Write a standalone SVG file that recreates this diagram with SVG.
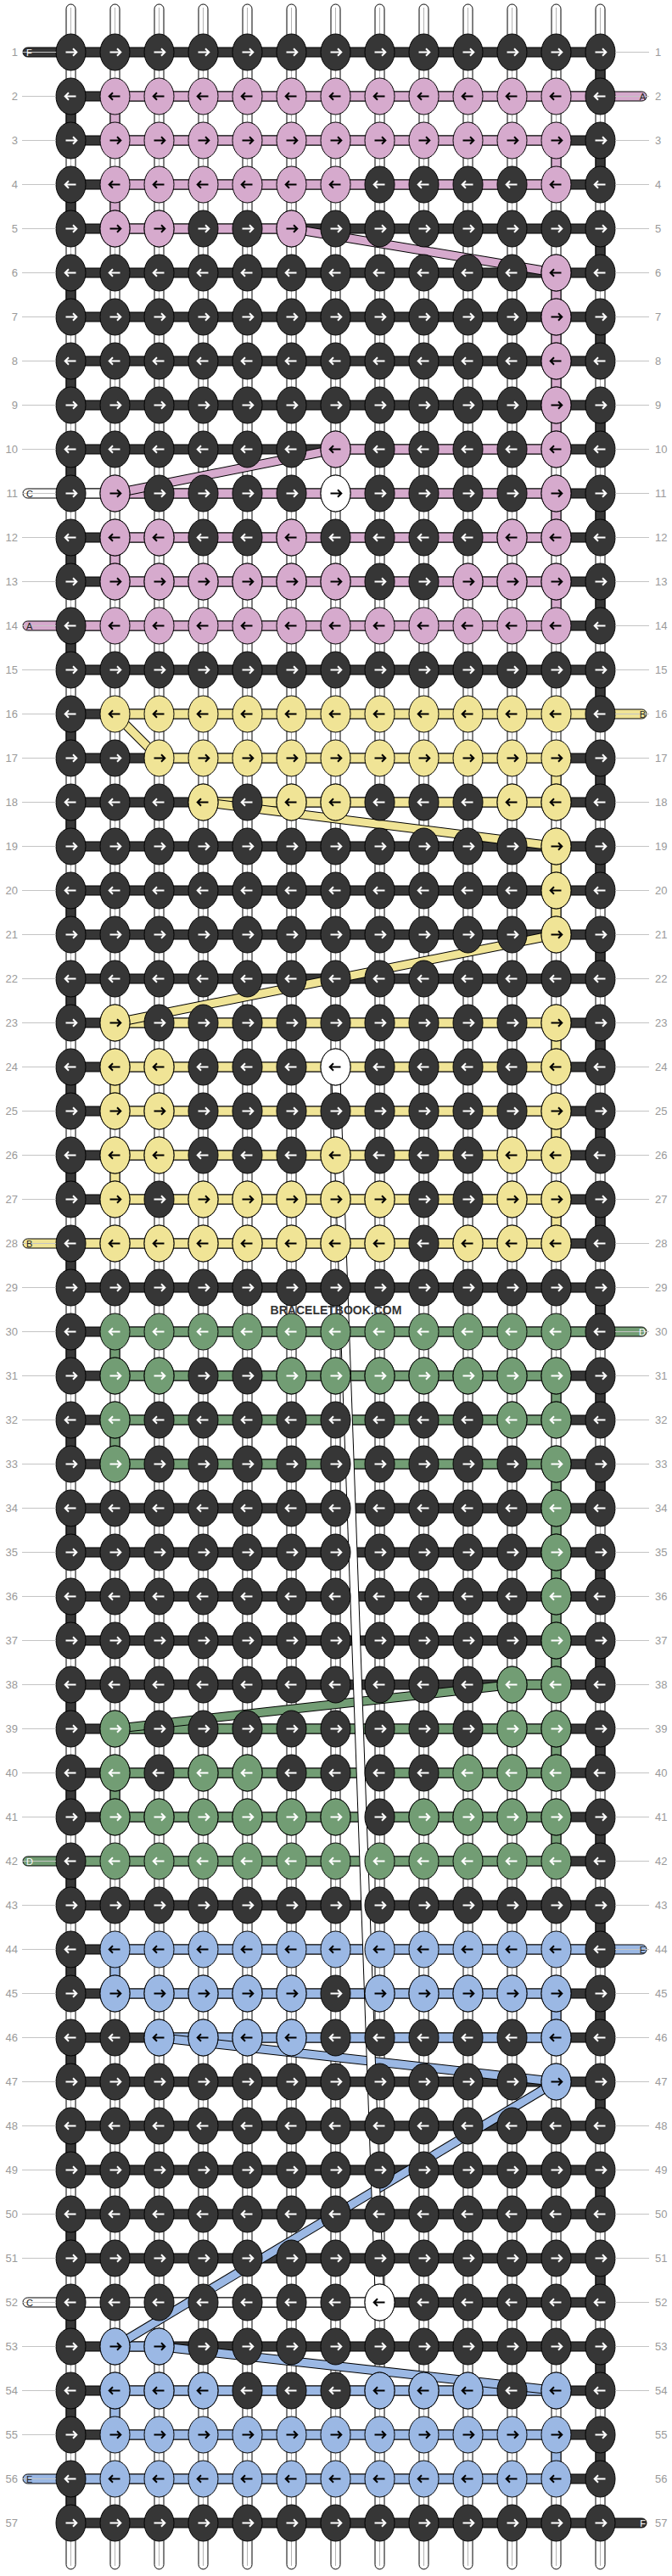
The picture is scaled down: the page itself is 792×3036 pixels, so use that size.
<svg xmlns="http://www.w3.org/2000/svg" width="792" height="3036" viewBox="0 0 792 3036">
<style>
.n{font-family:"Liberation Sans",Arial,sans-serif;font-size:13px;fill:#9a9a9a}
.nl{text-anchor:end}
.ln{stroke:#c4c4c4;stroke-width:1;fill:none}
.o{stroke:#000;stroke-width:11}
.pt{font-family:"Liberation Sans",Arial,sans-serif;font-size:11px}
.ed{stroke:#000;stroke-width:1}
</style>
<defs>
<path id="ar" d="M-6,0H6.5M2.5,-4.3L6.8,0L2.5,4.3" fill="none" stroke-width="2"/>
<path id="al" d="M6,0H-6.5M-2.5,-4.3L-6.8,0L-2.5,4.3" fill="none" stroke-width="2"/>
<ellipse id="e" rx="17.5" ry="21.5" stroke="#000" stroke-width="1"/>
<g id="dr"><use href="#e" fill="#363636"/><use href="#ar" stroke="#fff"/></g>
<g id="dl"><use href="#e" fill="#363636"/><use href="#al" stroke="#fff"/></g>
<g id="pr"><use href="#e" fill="#d6aacd"/><use href="#ar" stroke="#000"/></g>
<g id="pl"><use href="#e" fill="#d6aacd"/><use href="#al" stroke="#000"/></g>
<g id="yr"><use href="#e" fill="#f0e496"/><use href="#ar" stroke="#000"/></g>
<g id="yl"><use href="#e" fill="#f0e496"/><use href="#al" stroke="#000"/></g>
<g id="gr"><use href="#e" fill="#729d74"/><use href="#ar" stroke="#fff"/></g>
<g id="gl"><use href="#e" fill="#729d74"/><use href="#al" stroke="#fff"/></g>
<g id="br"><use href="#e" fill="#9bb8e4"/><use href="#ar" stroke="#000"/></g>
<g id="bl"><use href="#e" fill="#9bb8e4"/><use href="#al" stroke="#000"/></g>
<g id="wr"><use href="#e" fill="#fff"/><use href="#ar" stroke="#000"/></g>
<g id="wl"><use href="#e" fill="#fff"/><use href="#al" stroke="#000"/></g>
<g id="DR"><use href="#dr" x="83.5"/><use href="#dr" x="135.5"/><use href="#dr" x="187.5"/><use href="#dr" x="239.5"/><use href="#dr" x="291.5"/><use href="#dr" x="343.5"/><use href="#dr" x="395.5"/><use href="#dr" x="447.5"/><use href="#dr" x="499.5"/><use href="#dr" x="551.5"/><use href="#dr" x="603.5"/><use href="#dr" x="655.5"/><use href="#dr" x="707.5"/></g>
<g id="DL"><use href="#dl" x="83.5"/><use href="#dl" x="135.5"/><use href="#dl" x="187.5"/><use href="#dl" x="239.5"/><use href="#dl" x="291.5"/><use href="#dl" x="343.5"/><use href="#dl" x="395.5"/><use href="#dl" x="447.5"/><use href="#dl" x="499.5"/><use href="#dl" x="551.5"/><use href="#dl" x="603.5"/><use href="#dl" x="655.5"/><use href="#dl" x="707.5"/></g>
<g id="st"><rect x="-5.5" y="5" width="11" height="3023" rx="5.5" fill="#fff" stroke="#000"/><path d="M0,9V3024" stroke="#b4b4b4"/></g>
<path id="pL" d="M84,-5.5H32.5A5.5,5.5 0 0 0 32.5,5.5H84Z" stroke="#000"/>
<path id="pR" d="M707,-5.5H756.5A5.5,5.5 0 0 1 756.5,5.5H707Z" stroke="#000"/>
</defs>
<rect width="792" height="3036" fill="#fff"/>
<g id="connectors">
<g id="strands"><use href="#st" x="83.5"/><use href="#st" x="135.5"/><use href="#st" x="187.5"/><use href="#st" x="239.5"/><use href="#st" x="291.5"/><use href="#st" x="343.5"/><use href="#st" x="395.5"/><use href="#st" x="447.5"/><use href="#st" x="499.5"/><use href="#st" x="551.5"/><use href="#st" x="603.5"/><use href="#st" x="655.5"/><use href="#st" x="707.5"/></g>
<path class="ed" fill="#363636" d="M702,61.5h11v52h-11zm0,104h11v52h-11zm0,104h11v52h-11zm0,104h11v52h-11zm0,104h11v52h-11zm0,104h11v52h-11zm0,104h11v52h-11zm0,104h11v52h-11zm0,104h11v52h-11zm0,104h11v52h-11zm0,104h11v52h-11zm0,104h11v52h-11zm0,104h11v52h-11zm0,104h11v52h-11zm0,104h11v52h-11zm0,104h11v52h-11zm0,104h11v52h-11zm0,104h11v52h-11zm0,104h11v52h-11zm0,104h11v52h-11zm0,104h11v52h-11zm0,104h11v52h-11zm0,104h11v52h-11zm0,104h11v52h-11zm0,104h11v52h-11zm0,104h11v52h-11zm0,104h11v52h-11zm0,104h11v52h-11zM78,113.5h11v52h-11zm0,104h11v52h-11zm0,104h11v52h-11zm0,104h11v52h-11zm0,104h11v52h-11zm0,104h11v52h-11zm0,104h11v52h-11zm0,104h11v52h-11zm0,104h11v52h-11zm0,104h11v52h-11zm0,104h11v52h-11zm0,104h11v52h-11zm0,104h11v52h-11zm0,104h11v52h-11zm0,104h11v52h-11zm0,104h11v52h-11zm0,104h11v52h-11zm0,104h11v52h-11zm0,104h11v52h-11zm0,104h11v52h-11zm0,104h11v52h-11zm0,104h11v52h-11zm0,104h11v52h-11zm0,104h11v52h-11zm0,104h11v52h-11zm0,104h11v52h-11zm0,104h11v52h-11zm0,104h11v52h-11z"/>
<path class="ed" fill="#d6aacd" d="M130,113.5h11v52h-11zM650,165.5h11v52h-11zM130,217.5h11v52h-11zM650,321.5h11v208h-11zM650,581.5h11v52h-11zM130,633.5h11v52h-11zM650,685.5h11v52h-11z"/>
<path class="ed" fill="#f0e496" d="M650,893.5h11v52h-11zM650,997.5h11v104h-11zM650,1205.5h11v52h-11zM130,1257.5h11v52h-11zM650,1309.5h11v52h-11zM130,1361.5h11v52h-11zM650,1413.5h11v52h-11z"/>
<path class="ed" fill="#729d74" d="M130,1569.5h11v52h-11zM650,1621.5h11v52h-11zM130,1673.5h11v52h-11zM650,1725.5h11v260h-11zM650,2037.5h11v52h-11zM130,2089.5h11v52h-11zM650,2141.5h11v52h-11z"/>
<path class="ed" fill="#9bb8e4" d="M130,2297.5h11v52h-11zM650,2349.5h11v52h-11zM130,2817.5h11v52h-11zM650,2869.5h11v52h-11z"/>
<path class="ed" fill="#363636" d="M83.5,56h624v11h-624zm0,52h624v11h-624zm0,52h624v11h-624zm0,52h624v11h-624zm0,52h624v11h-624zm0,52h624v11h-624zm0,52h624v11h-624zm0,52h624v11h-624zm0,52h624v11h-624zm0,52h624v11h-624zm0,52h624v11h-624zm0,52h624v11h-624zm0,52h624v11h-624zm0,52h624v11h-624zm0,52h624v11h-624zm0,52h624v11h-624zm0,52h624v11h-624zm0,52h624v11h-624zm0,52h624v11h-624zm0,52h624v11h-624zm0,52h624v11h-624zm0,52h624v11h-624zm0,52h624v11h-624zm0,52h624v11h-624zm0,52h624v11h-624zm0,52h624v11h-624zm0,52h624v11h-624zm0,52h624v11h-624zm0,52h624v11h-624zm0,52h624v11h-624zm0,52h624v11h-624zm0,52h624v11h-624zm0,52h624v11h-624zm0,52h624v11h-624zm0,52h624v11h-624zm0,52h624v11h-624zm0,52h624v11h-624zm0,52h624v11h-624zm0,52h624v11h-624zm0,52h624v11h-624zm0,52h624v11h-624zm0,52h624v11h-624zm0,52h624v11h-624zm0,52h624v11h-624zm0,52h624v11h-624zm0,52h624v11h-624zm0,52h624v11h-624zm0,52h624v11h-624zm0,52h624v11h-624zm0,52h624v11h-624zm0,52h624v11h-624zm0,52h624v11h-624zm0,52h624v11h-624zm0,52h624v11h-624zm0,52h624v11h-624zm0,52h624v11h-624zm0,52h624v11h-624z"/>
<g class="ed" fill="#d6aacd"><rect x="135.5" y="108" width="572" height="11"/><rect x="135.5" y="160" width="520" height="11"/><rect x="135.5" y="212" width="520" height="11"/><rect x="135.5" y="264" width="208" height="11"/><rect x="395.5" y="524" width="260" height="11"/><rect x="135.5" y="576" width="520" height="11"/><rect x="135.5" y="628" width="520" height="11"/><rect x="135.5" y="680" width="520" height="11"/><rect x="83.5" y="732" width="572" height="11"/></g>
<g class="ed" fill="#f0e496"><rect x="135.5" y="836" width="572" height="11"/><rect x="187.5" y="888" width="468" height="11"/><rect x="239.5" y="940" width="416" height="11"/><rect x="135.5" y="1200" width="520" height="11"/><rect x="135.5" y="1252" width="520" height="11"/><rect x="135.5" y="1304" width="520" height="11"/><rect x="135.5" y="1356" width="520" height="11"/><rect x="135.5" y="1408" width="520" height="11"/><rect x="83.5" y="1460" width="572" height="11"/></g>
<g class="ed" fill="#729d74"><rect x="135.5" y="1564" width="572" height="11"/><rect x="135.5" y="1616" width="520" height="11"/><rect x="135.5" y="1668" width="520" height="11"/><rect x="135.5" y="1720" width="520" height="11"/><rect x="603.5" y="1980" width="52" height="11"/><rect x="135.5" y="2032" width="520" height="11"/><rect x="135.5" y="2084" width="520" height="11"/><rect x="135.5" y="2136" width="520" height="11"/><rect x="83.5" y="2188" width="572" height="11"/></g>
<g class="ed" fill="#9bb8e4"><rect x="135.5" y="2292" width="572" height="11"/><rect x="135.5" y="2344" width="520" height="11"/><rect x="187.5" y="2396" width="468" height="11"/><rect x="135.5" y="2760" width="52" height="11"/><rect x="135.5" y="2812" width="520" height="11"/><rect x="135.5" y="2864" width="520" height="11"/><rect x="83.5" y="2916" width="572" height="11"/></g>
<g class="ed" fill="#fff"><rect x="83.5" y="576" width="52" height="11"/><rect x="83.5" y="2708" width="364" height="11"/></g>
<g id="pills"><use href="#pL" y="61.5" fill="#363636"/><use href="#pL" y="581.5" fill="#fff"/><use href="#pL" y="737.5" fill="#d6aacd"/><use href="#pL" y="1465.5" fill="#f0e496"/><use href="#pL" y="2193.5" fill="#729d74"/><use href="#pL" y="2713.5" fill="#fff"/><use href="#pL" y="2921.5" fill="#9bb8e4"/><use href="#pR" y="113.5" fill="#d6aacd"/><use href="#pR" y="841.5" fill="#f0e496"/><use href="#pR" y="1569.5" fill="#729d74"/><use href="#pR" y="2297.5" fill="#9bb8e4"/><use href="#pR" y="2973.5" fill="#363636"/></g>
<g id="jumps">
<line class="o" x1="343.5" y1="269.5" x2="655.5" y2="321.5"/><line stroke="#d6aacd" stroke-width="9" x1="343.5" y1="269.5" x2="655.5" y2="321.5"/>
<line class="o" x1="395.5" y1="529.5" x2="135.5" y2="581.5"/><line stroke="#d6aacd" stroke-width="9" x1="395.5" y1="529.5" x2="135.5" y2="581.5"/>
<line class="o" x1="135.5" y1="841.5" x2="187.5" y2="893.5"/><line stroke="#f0e496" stroke-width="9" x1="135.5" y1="841.5" x2="187.5" y2="893.5"/>
<line class="o" x1="239.5" y1="945.5" x2="655.5" y2="997.5"/><line stroke="#f0e496" stroke-width="9" x1="239.5" y1="945.5" x2="655.5" y2="997.5"/>
<line class="o" x1="655.5" y1="1101.5" x2="135.5" y2="1205.5"/><line stroke="#f0e496" stroke-width="9" x1="655.5" y1="1101.5" x2="135.5" y2="1205.5"/>
<line class="o" x1="603.5" y1="1985.5" x2="135.5" y2="2037.5"/><line stroke="#729d74" stroke-width="9" x1="603.5" y1="1985.5" x2="135.5" y2="2037.5"/>
<line class="o" x1="187.5" y1="2401.5" x2="655.5" y2="2453.5"/><line stroke="#9bb8e4" stroke-width="9" x1="187.5" y1="2401.5" x2="655.5" y2="2453.5"/>
<line class="o" x1="655.5" y1="2453.5" x2="135.5" y2="2765.5"/><line stroke="#9bb8e4" stroke-width="9" x1="655.5" y1="2453.5" x2="135.5" y2="2765.5"/>
<line class="o" x1="187.5" y1="2765.5" x2="655.5" y2="2817.5"/><line stroke="#9bb8e4" stroke-width="9" x1="187.5" y1="2765.5" x2="655.5" y2="2817.5"/>
<line class="o" x1="395.5" y1="1257.5" x2="447.5" y2="2713.5"/><line stroke="#fff" stroke-width="9" x1="395.5" y1="1257.5" x2="447.5" y2="2713.5"/>
</g>
</g>
<g id="nodes">
<g id="row1" transform="translate(0,61.5)"><use href="#DR"/></g>
<g id="row2" transform="translate(0,113.5)"><use href="#dl" x="83.5"/><use href="#pl" x="135.5"/><use href="#pl" x="187.5"/><use href="#pl" x="239.5"/><use href="#pl" x="291.5"/><use href="#pl" x="343.5"/><use href="#pl" x="395.5"/><use href="#pl" x="447.5"/><use href="#pl" x="499.5"/><use href="#pl" x="551.5"/><use href="#pl" x="603.5"/><use href="#pl" x="655.5"/><use href="#dl" x="707.5"/></g>
<g id="row3" transform="translate(0,165.5)"><use href="#dr" x="83.5"/><use href="#pr" x="135.5"/><use href="#pr" x="187.5"/><use href="#pr" x="239.5"/><use href="#pr" x="291.5"/><use href="#pr" x="343.5"/><use href="#pr" x="395.5"/><use href="#pr" x="447.5"/><use href="#pr" x="499.5"/><use href="#pr" x="551.5"/><use href="#pr" x="603.5"/><use href="#pr" x="655.5"/><use href="#dr" x="707.5"/></g>
<g id="row4" transform="translate(0,217.5)"><use href="#dl" x="83.5"/><use href="#pl" x="135.5"/><use href="#pl" x="187.5"/><use href="#pl" x="239.5"/><use href="#pl" x="291.5"/><use href="#pl" x="343.5"/><use href="#pl" x="395.5"/><use href="#dl" x="447.5"/><use href="#dl" x="499.5"/><use href="#dl" x="551.5"/><use href="#dl" x="603.5"/><use href="#pl" x="655.5"/><use href="#dl" x="707.5"/></g>
<g id="row5" transform="translate(0,269.5)"><use href="#DR"/><use href="#pr" x="135.5"/><use href="#pr" x="187.5"/><use href="#pr" x="343.5"/></g>
<g id="row6" transform="translate(0,321.5)"><use href="#DL"/><use href="#pl" x="655.5"/></g>
<g id="row7" transform="translate(0,373.5)"><use href="#DR"/><use href="#pr" x="655.5"/></g>
<g id="row8" transform="translate(0,425.5)"><use href="#DL"/><use href="#pl" x="655.5"/></g>
<g id="row9" transform="translate(0,477.5)"><use href="#DR"/><use href="#pr" x="655.5"/></g>
<g id="row10" transform="translate(0,529.5)"><use href="#DL"/><use href="#pl" x="395.5"/><use href="#pl" x="655.5"/></g>
<g id="row11" transform="translate(0,581.5)"><use href="#DR"/><use href="#pr" x="135.5"/><use href="#wr" x="395.5"/><use href="#pr" x="655.5"/></g>
<g id="row12" transform="translate(0,633.5)"><use href="#DL"/><use href="#pl" x="135.5"/><use href="#pl" x="187.5"/><use href="#pl" x="343.5"/><use href="#pl" x="603.5"/><use href="#pl" x="655.5"/></g>
<g id="row13" transform="translate(0,685.5)"><use href="#DR"/><use href="#pr" x="135.5"/><use href="#pr" x="187.5"/><use href="#pr" x="239.5"/><use href="#pr" x="291.5"/><use href="#pr" x="343.5"/><use href="#pr" x="395.5"/><use href="#pr" x="551.5"/><use href="#pr" x="603.5"/><use href="#pr" x="655.5"/></g>
<g id="row14" transform="translate(0,737.5)"><use href="#dl" x="83.5"/><use href="#pl" x="135.5"/><use href="#pl" x="187.5"/><use href="#pl" x="239.5"/><use href="#pl" x="291.5"/><use href="#pl" x="343.5"/><use href="#pl" x="395.5"/><use href="#pl" x="447.5"/><use href="#pl" x="499.5"/><use href="#pl" x="551.5"/><use href="#pl" x="603.5"/><use href="#pl" x="655.5"/><use href="#dl" x="707.5"/></g>
<g id="row15" transform="translate(0,789.5)"><use href="#DR"/></g>
<g id="row16" transform="translate(0,841.5)"><use href="#dl" x="83.5"/><use href="#yl" x="135.5"/><use href="#yl" x="187.5"/><use href="#yl" x="239.5"/><use href="#yl" x="291.5"/><use href="#yl" x="343.5"/><use href="#yl" x="395.5"/><use href="#yl" x="447.5"/><use href="#yl" x="499.5"/><use href="#yl" x="551.5"/><use href="#yl" x="603.5"/><use href="#yl" x="655.5"/><use href="#dl" x="707.5"/></g>
<g id="row17" transform="translate(0,893.5)"><use href="#dr" x="83.5"/><use href="#dr" x="135.5"/><use href="#yr" x="187.5"/><use href="#yr" x="239.5"/><use href="#yr" x="291.5"/><use href="#yr" x="343.5"/><use href="#yr" x="395.5"/><use href="#yr" x="447.5"/><use href="#yr" x="499.5"/><use href="#yr" x="551.5"/><use href="#yr" x="603.5"/><use href="#yr" x="655.5"/><use href="#dr" x="707.5"/></g>
<g id="row18" transform="translate(0,945.5)"><use href="#DL"/><use href="#yl" x="239.5"/><use href="#yl" x="343.5"/><use href="#yl" x="395.5"/><use href="#yl" x="603.5"/><use href="#yl" x="655.5"/></g>
<g id="row19" transform="translate(0,997.5)"><use href="#DR"/><use href="#yr" x="655.5"/></g>
<g id="row20" transform="translate(0,1049.5)"><use href="#DL"/><use href="#yl" x="655.5"/></g>
<g id="row21" transform="translate(0,1101.5)"><use href="#DR"/><use href="#yr" x="655.5"/></g>
<g id="row22" transform="translate(0,1153.5)"><use href="#DL"/></g>
<g id="row23" transform="translate(0,1205.5)"><use href="#DR"/><use href="#yr" x="135.5"/><use href="#yr" x="655.5"/></g>
<g id="row24" transform="translate(0,1257.5)"><use href="#DL"/><use href="#yl" x="135.5"/><use href="#yl" x="187.5"/><use href="#wl" x="395.5"/><use href="#yl" x="655.5"/></g>
<g id="row25" transform="translate(0,1309.5)"><use href="#DR"/><use href="#yr" x="135.5"/><use href="#yr" x="187.5"/><use href="#yr" x="655.5"/></g>
<g id="row26" transform="translate(0,1361.5)"><use href="#DL"/><use href="#yl" x="135.5"/><use href="#yl" x="187.5"/><use href="#yl" x="395.5"/><use href="#yl" x="603.5"/><use href="#yl" x="655.5"/></g>
<g id="row27" transform="translate(0,1413.5)"><use href="#DR"/><use href="#yr" x="135.5"/><use href="#yr" x="239.5"/><use href="#yr" x="291.5"/><use href="#yr" x="343.5"/><use href="#yr" x="395.5"/><use href="#yr" x="447.5"/><use href="#yr" x="603.5"/><use href="#yr" x="655.5"/></g>
<g id="row28" transform="translate(0,1465.5)"><use href="#DL"/><use href="#yl" x="135.5"/><use href="#yl" x="187.5"/><use href="#yl" x="239.5"/><use href="#yl" x="291.5"/><use href="#yl" x="343.5"/><use href="#yl" x="395.5"/><use href="#yl" x="447.5"/><use href="#yl" x="551.5"/><use href="#yl" x="603.5"/><use href="#yl" x="655.5"/></g>
<g id="row29" transform="translate(0,1517.5)"><use href="#DR"/></g>
<g id="row30" transform="translate(0,1569.5)"><use href="#dl" x="83.5"/><use href="#gl" x="135.5"/><use href="#gl" x="187.5"/><use href="#gl" x="239.5"/><use href="#gl" x="291.5"/><use href="#gl" x="343.5"/><use href="#gl" x="395.5"/><use href="#gl" x="447.5"/><use href="#gl" x="499.5"/><use href="#gl" x="551.5"/><use href="#gl" x="603.5"/><use href="#gl" x="655.5"/><use href="#dl" x="707.5"/></g>
<g id="row31" transform="translate(0,1621.5)"><use href="#DR"/><use href="#gr" x="135.5"/><use href="#gr" x="187.5"/><use href="#gr" x="343.5"/><use href="#gr" x="395.5"/><use href="#gr" x="447.5"/><use href="#gr" x="499.5"/><use href="#gr" x="551.5"/><use href="#gr" x="603.5"/><use href="#gr" x="655.5"/></g>
<g id="row32" transform="translate(0,1673.5)"><use href="#DL"/><use href="#gl" x="135.5"/><use href="#gl" x="603.5"/><use href="#gl" x="655.5"/></g>
<g id="row33" transform="translate(0,1725.5)"><use href="#DR"/><use href="#gr" x="135.5"/><use href="#gr" x="655.5"/></g>
<g id="row34" transform="translate(0,1777.5)"><use href="#DL"/><use href="#gl" x="655.5"/></g>
<g id="row35" transform="translate(0,1829.5)"><use href="#DR"/><use href="#gr" x="655.5"/></g>
<g id="row36" transform="translate(0,1881.5)"><use href="#DL"/><use href="#gl" x="655.5"/></g>
<g id="row37" transform="translate(0,1933.5)"><use href="#DR"/><use href="#gr" x="655.5"/></g>
<g id="row38" transform="translate(0,1985.5)"><use href="#DL"/><use href="#gl" x="603.5"/><use href="#gl" x="655.5"/></g>
<g id="row39" transform="translate(0,2037.5)"><use href="#DR"/><use href="#gr" x="135.5"/><use href="#gr" x="603.5"/><use href="#gr" x="655.5"/></g>
<g id="row40" transform="translate(0,2089.5)"><use href="#DL"/><use href="#gl" x="135.5"/><use href="#gl" x="239.5"/><use href="#gl" x="291.5"/><use href="#gl" x="551.5"/><use href="#gl" x="603.5"/><use href="#gl" x="655.5"/></g>
<g id="row41" transform="translate(0,2141.5)"><use href="#DR"/><use href="#gr" x="135.5"/><use href="#gr" x="187.5"/><use href="#gr" x="239.5"/><use href="#gr" x="291.5"/><use href="#gr" x="343.5"/><use href="#gr" x="395.5"/><use href="#gr" x="499.5"/><use href="#gr" x="551.5"/><use href="#gr" x="603.5"/><use href="#gr" x="655.5"/></g>
<g id="row42" transform="translate(0,2193.5)"><use href="#dl" x="83.5"/><use href="#gl" x="135.5"/><use href="#gl" x="187.5"/><use href="#gl" x="239.5"/><use href="#gl" x="291.5"/><use href="#gl" x="343.5"/><use href="#gl" x="395.5"/><use href="#gl" x="447.5"/><use href="#gl" x="499.5"/><use href="#gl" x="551.5"/><use href="#gl" x="603.5"/><use href="#gl" x="655.5"/><use href="#dl" x="707.5"/></g>
<g id="row43" transform="translate(0,2245.5)"><use href="#DR"/></g>
<g id="row44" transform="translate(0,2297.5)"><use href="#dl" x="83.5"/><use href="#bl" x="135.5"/><use href="#bl" x="187.5"/><use href="#bl" x="239.5"/><use href="#bl" x="291.5"/><use href="#bl" x="343.5"/><use href="#bl" x="395.5"/><use href="#bl" x="447.5"/><use href="#bl" x="499.5"/><use href="#bl" x="551.5"/><use href="#bl" x="603.5"/><use href="#bl" x="655.5"/><use href="#dl" x="707.5"/></g>
<g id="row45" transform="translate(0,2349.5)"><use href="#DR"/><use href="#br" x="135.5"/><use href="#br" x="187.5"/><use href="#br" x="239.5"/><use href="#br" x="291.5"/><use href="#br" x="343.5"/><use href="#br" x="447.5"/><use href="#br" x="499.5"/><use href="#br" x="551.5"/><use href="#br" x="603.5"/><use href="#br" x="655.5"/></g>
<g id="row46" transform="translate(0,2401.5)"><use href="#DL"/><use href="#bl" x="187.5"/><use href="#bl" x="239.5"/><use href="#bl" x="291.5"/><use href="#bl" x="343.5"/><use href="#bl" x="655.5"/></g>
<g id="row47" transform="translate(0,2453.5)"><use href="#DR"/><use href="#br" x="655.5"/></g>
<g id="row48" transform="translate(0,2505.5)"><use href="#DL"/></g>
<g id="row49" transform="translate(0,2557.5)"><use href="#DR"/></g>
<g id="row50" transform="translate(0,2609.5)"><use href="#DL"/></g>
<g id="row51" transform="translate(0,2661.5)"><use href="#DR"/></g>
<g id="row52" transform="translate(0,2713.5)"><use href="#DL"/><use href="#wl" x="447.5"/></g>
<g id="row53" transform="translate(0,2765.5)"><use href="#DR"/><use href="#br" x="135.5"/><use href="#br" x="187.5"/></g>
<g id="row54" transform="translate(0,2817.5)"><use href="#DL"/><use href="#bl" x="135.5"/><use href="#bl" x="187.5"/><use href="#bl" x="239.5"/><use href="#bl" x="447.5"/><use href="#bl" x="499.5"/><use href="#bl" x="551.5"/><use href="#bl" x="655.5"/></g>
<g id="row55" transform="translate(0,2869.5)"><use href="#dr" x="83.5"/><use href="#br" x="135.5"/><use href="#br" x="187.5"/><use href="#br" x="239.5"/><use href="#br" x="291.5"/><use href="#br" x="343.5"/><use href="#br" x="395.5"/><use href="#br" x="447.5"/><use href="#br" x="499.5"/><use href="#br" x="551.5"/><use href="#br" x="603.5"/><use href="#br" x="655.5"/><use href="#dr" x="707.5"/></g>
<g id="row56" transform="translate(0,2921.5)"><use href="#dl" x="83.5"/><use href="#bl" x="135.5"/><use href="#bl" x="187.5"/><use href="#bl" x="239.5"/><use href="#bl" x="291.5"/><use href="#bl" x="343.5"/><use href="#bl" x="395.5"/><use href="#bl" x="447.5"/><use href="#bl" x="499.5"/><use href="#bl" x="551.5"/><use href="#bl" x="603.5"/><use href="#bl" x="655.5"/><use href="#dl" x="707.5"/></g>
<g id="row57" transform="translate(0,2973.5)"><use href="#DR"/></g>
</g>
<g id="labels">
<path class="ln" d="M26,61.5h40m-40,52h40m-40,52h40m-40,52h40m-40,52h40m-40,52h40m-40,52h40m-40,52h40m-40,52h40m-40,52h40m-40,52h40m-40,52h40m-40,52h40m-40,52h40m-40,52h40m-40,52h40m-40,52h40m-40,52h40m-40,52h40m-40,52h40m-40,52h40m-40,52h40m-40,52h40m-40,52h40m-40,52h40m-40,52h40m-40,52h40m-40,52h40m-40,52h40m-40,52h40m-40,52h40m-40,52h40m-40,52h40m-40,52h40m-40,52h40m-40,52h40m-40,52h40m-40,52h40m-40,52h40m-40,52h40m-40,52h40m-40,52h40m-40,52h40m-40,52h40m-40,52h40m-40,52h40m-40,52h40m-40,52h40m-40,52h40m-40,52h40m-40,52h40m-40,52h40m-40,52h40m-40,52h40m-40,52h40m-40,52h40M725,61.5h40m-40,52h40m-40,52h40m-40,52h40m-40,52h40m-40,52h40m-40,52h40m-40,52h40m-40,52h40m-40,52h40m-40,52h40m-40,52h40m-40,52h40m-40,52h40m-40,52h40m-40,52h40m-40,52h40m-40,52h40m-40,52h40m-40,52h40m-40,52h40m-40,52h40m-40,52h40m-40,52h40m-40,52h40m-40,52h40m-40,52h40m-40,52h40m-40,52h40m-40,52h40m-40,52h40m-40,52h40m-40,52h40m-40,52h40m-40,52h40m-40,52h40m-40,52h40m-40,52h40m-40,52h40m-40,52h40m-40,52h40m-40,52h40m-40,52h40m-40,52h40m-40,52h40m-40,52h40m-40,52h40m-40,52h40m-40,52h40m-40,52h40m-40,52h40m-40,52h40m-40,52h40m-40,52h40"/>
<g class="n nl"><text x="21" y="66">1</text><text x="21" y="118">2</text><text x="21" y="170">3</text><text x="21" y="222">4</text><text x="21" y="274">5</text><text x="21" y="326">6</text><text x="21" y="378">7</text><text x="21" y="430">8</text><text x="21" y="482">9</text><text x="21" y="534">10</text><text x="21" y="586">11</text><text x="21" y="638">12</text><text x="21" y="690">13</text><text x="21" y="742">14</text><text x="21" y="794">15</text><text x="21" y="846">16</text><text x="21" y="898">17</text><text x="21" y="950">18</text><text x="21" y="1002">19</text><text x="21" y="1054">20</text><text x="21" y="1106">21</text><text x="21" y="1158">22</text><text x="21" y="1210">23</text><text x="21" y="1262">24</text><text x="21" y="1314">25</text><text x="21" y="1366">26</text><text x="21" y="1418">27</text><text x="21" y="1470">28</text><text x="21" y="1522">29</text><text x="21" y="1574">30</text><text x="21" y="1626">31</text><text x="21" y="1678">32</text><text x="21" y="1730">33</text><text x="21" y="1782">34</text><text x="21" y="1834">35</text><text x="21" y="1886">36</text><text x="21" y="1938">37</text><text x="21" y="1990">38</text><text x="21" y="2042">39</text><text x="21" y="2094">40</text><text x="21" y="2146">41</text><text x="21" y="2198">42</text><text x="21" y="2250">43</text><text x="21" y="2302">44</text><text x="21" y="2354">45</text><text x="21" y="2406">46</text><text x="21" y="2458">47</text><text x="21" y="2510">48</text><text x="21" y="2562">49</text><text x="21" y="2614">50</text><text x="21" y="2666">51</text><text x="21" y="2718">52</text><text x="21" y="2770">53</text><text x="21" y="2822">54</text><text x="21" y="2874">55</text><text x="21" y="2926">56</text><text x="21" y="2978">57</text></g>
<g class="n"><text x="772" y="66">1</text><text x="772" y="118">2</text><text x="772" y="170">3</text><text x="772" y="222">4</text><text x="772" y="274">5</text><text x="772" y="326">6</text><text x="772" y="378">7</text><text x="772" y="430">8</text><text x="772" y="482">9</text><text x="772" y="534">10</text><text x="772" y="586">11</text><text x="772" y="638">12</text><text x="772" y="690">13</text><text x="772" y="742">14</text><text x="772" y="794">15</text><text x="772" y="846">16</text><text x="772" y="898">17</text><text x="772" y="950">18</text><text x="772" y="1002">19</text><text x="772" y="1054">20</text><text x="772" y="1106">21</text><text x="772" y="1158">22</text><text x="772" y="1210">23</text><text x="772" y="1262">24</text><text x="772" y="1314">25</text><text x="772" y="1366">26</text><text x="772" y="1418">27</text><text x="772" y="1470">28</text><text x="772" y="1522">29</text><text x="772" y="1574">30</text><text x="772" y="1626">31</text><text x="772" y="1678">32</text><text x="772" y="1730">33</text><text x="772" y="1782">34</text><text x="772" y="1834">35</text><text x="772" y="1886">36</text><text x="772" y="1938">37</text><text x="772" y="1990">38</text><text x="772" y="2042">39</text><text x="772" y="2094">40</text><text x="772" y="2146">41</text><text x="772" y="2198">42</text><text x="772" y="2250">43</text><text x="772" y="2302">44</text><text x="772" y="2354">45</text><text x="772" y="2406">46</text><text x="772" y="2458">47</text><text x="772" y="2510">48</text><text x="772" y="2562">49</text><text x="772" y="2614">50</text><text x="772" y="2666">51</text><text x="772" y="2718">52</text><text x="772" y="2770">53</text><text x="772" y="2822">54</text><text x="772" y="2874">55</text><text x="772" y="2926">56</text><text x="772" y="2978">57</text></g>
<g class="pt"><text x="31" y="65.5" fill="#fff">F</text><text x="31" y="585.5" fill="#222">C</text><text x="31" y="741.5" fill="#222">A</text><text x="31" y="1469.5" fill="#222">B</text><text x="31" y="2197.5" fill="#fff">D</text><text x="31" y="2717.5" fill="#222">C</text><text x="31" y="2925.5" fill="#222">E</text><text x="761" y="117.5" fill="#222" text-anchor="end">A</text><text x="761" y="845.5" fill="#222" text-anchor="end">B</text><text x="761" y="1573.5" fill="#fff" text-anchor="end">D</text><text x="761" y="2301.5" fill="#222" text-anchor="end">E</text><text x="761" y="2977.5" fill="#fff" text-anchor="end">F</text></g>
<text x="396" y="1549" text-anchor="middle" font-family="'Liberation Sans',Arial,sans-serif" font-size="14" font-weight="bold" fill="#333">BRACELETBOOK.COM</text>
</g>
</svg>
